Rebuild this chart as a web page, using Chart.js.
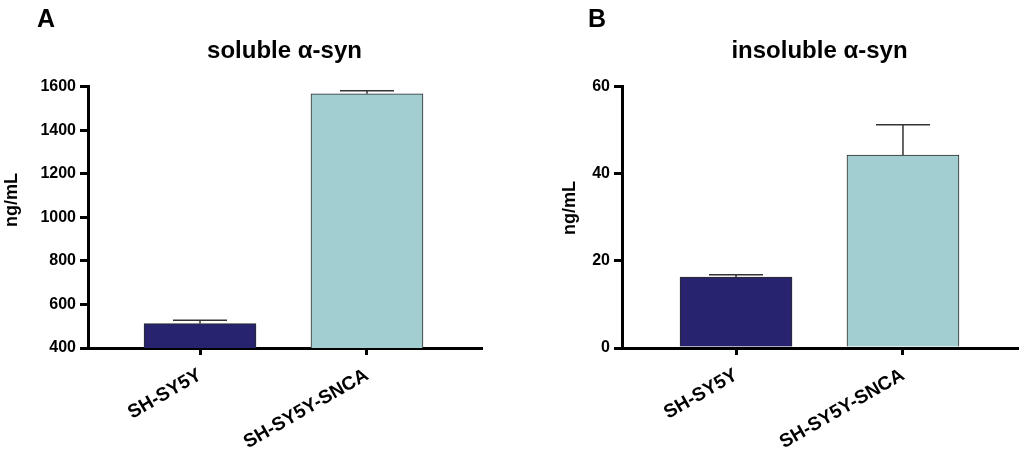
<!DOCTYPE html>
<html>
<head>
<meta charset="utf-8">
<script src="https://cdn.jsdelivr.net/npm/chart.js@4"></script>
<style>
  html, body { margin: 0; padding: 0; background: #fff; }
  .wrap { display: flex; width: 1024px; height: 463px; }
  .panel { position: relative; width: 512px; height: 463px; }
</style>
</head>
<body>
<div class="wrap">
  <div class="panel"><canvas id="chartA"></canvas></div>
  <div class="panel"><canvas id="chartB"></canvas></div>
</div>
<script>
const cellLines = ['SH-SY5Y', 'SH-SY5Y-SNCA'];
const barColors = ['#27236e', '#a3ced1'];

// soluble alpha-syn (ng/mL): mean and upper end of error bar
const solubleMean = [512, 1568];
const solubleUpper = [527, 1582];
const solubleTicks = [400, 600, 800, 1000, 1200, 1400, 1600];

// insoluble alpha-syn (ng/mL)
const insolubleMean = [16.3, 44.3];
const insolubleUpper = [16.8, 51.3];
const insolubleTicks = [0, 20, 40, 60];

Chart.defaults.font.family = "'Liberation Sans', Arial, sans-serif";
Chart.defaults.color = '#000';

// draws the upper error bar for every bar
const errorBars = {
    id: 'errorBars',
    afterDatasetsDraw(chart, args, opts) {
        const ctx = chart.ctx;
        const meta = chart.getDatasetMeta(0);
        const yScale = chart.scales.y;
        ctx.save();
        ctx.strokeStyle = '#333';
        ctx.lineWidth = 1.5;
        meta.data.forEach((bar, i) => {
            const yTop = yScale.getPixelForValue(opts.upper[i]);
            ctx.beginPath();
            ctx.moveTo(bar.x, bar.y);
            ctx.lineTo(bar.x, yTop);
            ctx.moveTo(bar.x - 27, yTop);
            ctx.lineTo(bar.x + 27, yTop);
            ctx.stroke();
        });
        ctx.restore();
    }
};

// panel letter (A / B) and the y axis title
const panelText = {
    id: 'panelText',
    afterDraw(chart, args, opts) {
        const ctx = chart.ctx;
        ctx.save();
        ctx.fillStyle = '#000';
        ctx.font = "bold 25px 'Liberation Sans', Arial, sans-serif";
        ctx.textBaseline = 'alphabetic';
        ctx.fillText(opts.letter, opts.letterX, 27);

        ctx.font = "bold 18px 'Liberation Sans', Arial, sans-serif";
        ctx.textAlign = 'center';
        ctx.textBaseline = 'middle';
        ctx.translate(opts.yTitleX, opts.yTitleY);
        ctx.rotate(-Math.PI / 2);
        ctx.fillText('ng/mL', 0, 0);
        ctx.restore();
    }
};

function makeChart(id, cfg) {
    const ctx = document.getElementById(id).getContext('2d');
    return new Chart(ctx, {
        type: 'bar',
        data: {
            datasets: [{
                data: cfg.means.map((v, i) => ({ x: i, y: v })),
                backgroundColor: barColors,
                borderColor: '#2b2b2b',
                borderWidth: 1,
                barThickness: 112
            }]
        },
        options: {
            responsive: false,
            animation: false,
            layout: { padding: { left: cfg.padLeft, right: cfg.padRight, top: 0, bottom: 0 } },
            plugins: {
                legend: { display: false },
                tooltip: { enabled: false },
                title: {
                    display: true,
                    text: cfg.title,
                    fullSize: false,
                    font: { size: 24, weight: 'bold' },
                    color: '#000',
                    padding: { top: 37, bottom: 21 }
                },
                errorBars: { upper: cfg.upper },
                panelText: { letter: cfg.letter, letterX: cfg.letterX, yTitleX: cfg.yTitleX, yTitleY: cfg.yTitleY }
            },
            scales: {
                x: {
                    type: 'linear',
                    offset: false,
                    min: cfg.xMin,
                    max: cfg.xMax,
                    afterBuildTicks: s => { s.ticks = cellLines.map((c, i) => ({ value: i })); },
                    afterFit: s => { s.height = 115; },
                    ticks: {
                        autoSkip: false,
                        minRotation: 30,
                        maxRotation: 30,
                        padding: 9,
                        font: { size: 19, weight: 'bold' },
                        callback: v => cellLines[v]
                    },
                    grid: { offset: false, drawOnChartArea: false, color: '#000', lineWidth: 3, tickLength: 7 },
                    border: { display: true, color: '#000', width: 3 }
                },
                y: {
                    min: cfg.yTicks[0],
                    max: cfg.yTicks[cfg.yTicks.length - 1],
                    afterBuildTicks: s => { s.ticks = cfg.yTicks.map(v => ({ value: v })); },
                    afterFit: s => { s.width = cfg.yWidth; },
                    ticks: { padding: 4, font: { size: 16, weight: 'bold' }, callback: v => String(v) },
                    grid: { drawOnChartArea: false, color: '#000', lineWidth: 3, tickLength: 8 },
                    border: { display: true, color: '#000', width: 3 }
                }
            }
        },
        plugins: [errorBars, panelText]
    });
}

document.getElementById('chartA').width = 512;
document.getElementById('chartA').height = 463;
document.getElementById('chartB').width = 512;
document.getElementById('chartB').height = 463;

makeChart('chartA', {
    title: 'soluble α-syn',
    letter: 'A', letterX: 37,
    yTitleX: 12, yTitleY: 200,
    means: solubleMean, upper: solubleUpper, yTicks: solubleTicks,
    padLeft: 0, padRight: 31, yWidth: 88,
    xMin: -0.671, xMax: 1.683
});

makeChart('chartB', {
    title: 'insoluble α-syn',
    letter: 'B', letterX: 76,
    yTitleX: 58, yTitleY: 208,
    means: insolubleMean, upper: insolubleUpper, yTicks: insolubleTicks,
    padLeft: 47, padRight: 7, yWidth: 63,
    xMin: -0.683, xMax: 1.683
});
</script>
</body>
</html>
